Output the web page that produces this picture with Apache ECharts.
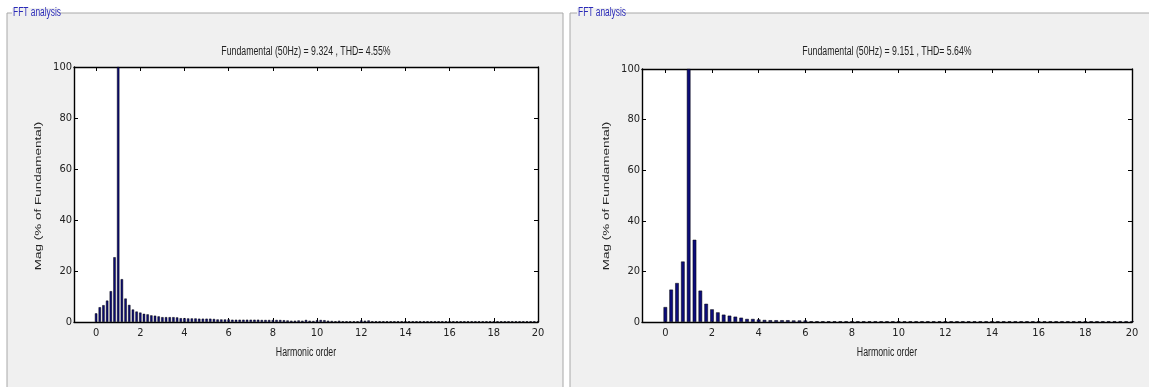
<!DOCTYPE html>
<html>
<head>
<meta charset="utf-8">
<script src="https://cdn.jsdelivr.net/npm/echarts@6/dist/echarts.min.js"></script>
<style>
html,body{margin:0;padding:0;background:#fff;}
#c{width:1149px;height:387px;}
</style>
</head>
<body>
<div id="c"></div>
<script>
// Harmonic orders and magnitudes (% of fundamental)
const leftTitle = "Fundamental (50Hz) = 9.324 , THD= 4.55%";
const rightTitle = "Fundamental (50Hz) = 9.151 , THD= 5.64%";
const panelLabel = "FFT analysis";
const xName = "Harmonic order";
const yName = "Mag (% of Fundamental)";
const xTicks = [0, 2, 4, 6, 8, 10, 12, 14, 16, 18, 20];
const yTicks = [0, 20, 40, 60, 80, 100];

// left: resolution 1/6 of harmonic order (0 .. 20)
const leftStep = 1 / 6;
const leftMag = [
  3.4, 5.8, 6.6, 8.4, 12.1, 25.4, 100, 16.8, 9.2, 6.7, 4.9, 4.1,
  3.7, 3.2, 3.0, 2.6, 2.5, 2.2,
  1.9, 1.9, 1.9, 1.9, 1.8, 1.5,
  1.5, 1.4, 1.4, 1.4, 1.3, 1.3,
  1.3, 1.3, 1.2, 1.0, 1.0, 1.0,
  1.0, 0.9, 0.9, 0.9, 0.9, 0.9,
  0.9, 0.9, 0.9, 0.8, 0.8, 0.8,
  0.8, 0.8, 0.8, 0.7, 0.6, 0.5,
  0.5, 0.6, 0.5, 0.8, 0.5, 0.4,
  0.7, 0.8, 0.7, 0.5, 0.4, 0.3,
  0.5, 0.3, 0.3, 0.3, 0.3, 0.3,
  0.6, 0.5, 0.6, 0.3, 0.3, 0.3,
  0.3, 0.3, 0.3, 0.3, 0.3, 0.3,
  0.3, 0.3, 0.3, 0.3, 0.3, 0.3,
  0.3, 0.3, 0.3, 0.3, 0.3, 0.3,
  0.3, 0.3, 0.3, 0.3, 0.3, 0.3,
  0.3, 0.3, 0.3, 0.3, 0.3, 0.3,
  0.3, 0.3, 0.3, 0.3, 0.3, 0.3,
  0.3, 0.3, 0.3, 0.3, 0.3, 0.3,
  0.3
];

// right: resolution 1/4 of harmonic order (0 .. 20)
const rightStep = 0.25;
const rightMag = [
  5.9, 12.8, 15.4, 23.9,
  100, 32.5, 12.4, 7.2,
  5.0, 3.8, 2.9, 2.5,
  2.1, 1.7, 1.2, 1.2,
  1.0, 0.8, 0.7, 0.7,
  0.7, 0.7, 0.6, 0.6,
  0.6, 0.3, 0.3, 0.3,
  0.3, 0.3, 0.3, 0.3,
  0.3, 0.3, 0.3, 0.3,
  0.3, 0.3, 0.3, 0.3,
  0.3, 0.3, 0.3, 0.3,
  0.3, 0.3, 0.3, 0.3,
  0.3, 0.3, 0.3, 0.3,
  0.3, 0.3, 0.3, 0.3,
  0.3, 0.3, 0.3, 0.3,
  0.3, 0.3, 0.3, 0.3,
  0.3, 0.3, 0.3, 0.3,
  0.3, 0.3, 0.3, 0.3,
  0.3, 0.3, 0.3, 0.3,
  0.3, 0.3, 0.3, 0.3,
  0.3
];

const COND = "'DejaVu Sans Condensed','Liberation Sans',sans-serif";
const SANS = "'Liberation Sans',Arial,sans-serif";

const chart = echarts.init(document.getElementById('c'), null, {renderer: 'canvas'});

const grids = [
  {left: 74, top: 67, width: 464, height: 255},
  {left: 642, top: 69, width: 490, height: 253}
];

function xAxes(gi) {
  const base = {
    gridIndex: gi, type: 'value', min: -1, max: 20,
    axisLine: {show: true, onZero: false, lineStyle: {color: '#000', width: 1.4}},
    splitLine: {show: false}
  };
  return [
    Object.assign({}, base, {
      position: 'bottom',
      axisTick: {show: true, inside: true, length: 4, customValues: xTicks, lineStyle: {color: '#000'}},
      axisLabel: {show: true, customValues: xTicks, margin: 6, fontFamily: COND, fontSize: 11, color: '#222'}
    }),
    Object.assign({}, base, {
      position: 'top',
      axisTick: {show: true, inside: true, length: 4, customValues: xTicks, lineStyle: {color: '#000'}},
      axisLabel: {show: false}
    })
  ];
}
function yAxes(gi) {
  const base = {
    gridIndex: gi, type: 'value', min: 0, max: 100, interval: 20,
    axisLine: {show: true, onZero: false, lineStyle: {color: '#000', width: 1.4}},
    splitLine: {show: false}
  };
  return [
    Object.assign({}, base, {
      position: 'left',
      axisTick: {show: true, inside: true, length: 4, lineStyle: {color: '#000'}},
      axisLabel: {show: true, margin: 2, fontFamily: COND, fontSize: 11, color: '#222',
        customValues: yTicks}
    }),
    Object.assign({}, base, {
      position: 'right',
      axisTick: {show: true, inside: true, length: 4, lineStyle: {color: '#000'}},
      axisLabel: {show: false}
    })
  ];
}

function toPairs(mag, step) {
  return mag.map((v, i) => [i * step, v]);
}

function squeezedText(str, x, y, size, color, align) {
  return {type: 'text', z: 5, x: x, y: y, scaleX: 0.7,
    style: {text: str, fontFamily: SANS, fontSize: size, fill: color,
      align: align || 'center', verticalAlign: 'middle'}};
}
function verticalText(str, x, y, size, color) {
  return {type: 'text', z: 5, x: x, y: y, rotation: Math.PI / 2, scaleY: 0.72,
    style: {text: str, fontFamily: SANS, fontSize: size, fill: color,
      align: 'center', verticalAlign: 'middle'}};
}

const option = {
  animation: false,
  backgroundColor: '#ffffff',
  graphic: [
    {type: 'rect', z: -10, shape: {x: 7, y: 13, width: 556, height: 380},
     style: {fill: '#f0f0f0', stroke: '#a8a8a8', lineWidth: 1}},
    {type: 'rect', z: -10, shape: {x: 570, y: 13, width: 590, height: 380},
     style: {fill: '#f0f0f0', stroke: '#a8a8a8', lineWidth: 1}},
    {type: 'rect', z: -9, shape: {x: 12, y: 8, width: 47, height: 11}, style: {fill: '#f0f0f0'}},
    {type: 'rect', z: -9, shape: {x: 577, y: 8, width: 47, height: 11}, style: {fill: '#f0f0f0'}},
    squeezedText(panelLabel, 13, 13, 12, '#2b2bb8', 'left'),
    squeezedText(panelLabel, 578, 13, 12, '#2b2bb8', 'left'),
    squeezedText(leftTitle, 306, 52, 12.5, '#222'),
    squeezedText(rightTitle, 887, 52, 12.5, '#222'),
    squeezedText(xName, 306, 353, 12.5, '#222'),
    squeezedText(xName, 887, 353, 12.5, '#222'),
    verticalText(yName, 38, 196, 13.5, '#222'),
    verticalText(yName, 606, 196, 13.5, '#222'),
    {type: 'rect', z: -7, shape: {x: 74, y: 67, width: 464, height: 255}, style: {fill: '#fff'}},
    {type: 'rect', z: -7, shape: {x: 642, y: 69, width: 490, height: 253}, style: {fill: '#fff'}}
  ],
  grid: grids,
  xAxis: xAxes(0).concat(xAxes(1)),
  yAxis: yAxes(0).concat(yAxes(1)),
  series: [
    {type: 'bar', xAxisIndex: 0, yAxisIndex: 0, data: toPairs(leftMag, leftStep), barWidth: 2.4,
     itemStyle: {color: '#0c0c7a', borderColor: '#000', borderWidth: 0.5}},
    {type: 'bar', xAxisIndex: 2, yAxisIndex: 2, data: toPairs(rightMag, rightStep), barWidth: 3.6,
     itemStyle: {color: '#0c0c7a', borderColor: '#000', borderWidth: 0.5}}
  ]
};
chart.setOption(option);
</script>
</body>
</html>
